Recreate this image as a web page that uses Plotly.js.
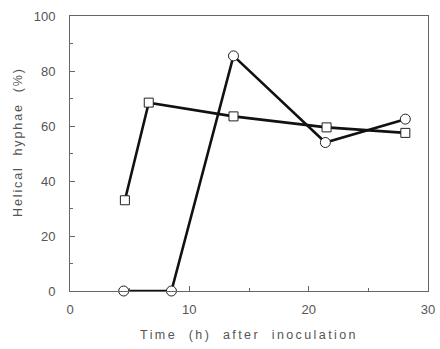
<!DOCTYPE html>
<html>
<head>
<meta charset="utf-8">
<script src="https://cdn.plot.ly/plotly-3.0.1.min.js"></script>
<style>
html,body{margin:0;padding:0;background:#fff;}
#chart{width:440px;height:349px;}
.g-xtitle text{letter-spacing:2.4px;}
.annotation-text{letter-spacing:1.9px;}
</style>
</head>
<body>
<div id="chart"></div>
<script>
var circleX = [4.5, 8.5, 13.7, 21.4, 28.1];
var circleY = [0, 0, 85.5, 54, 62.5];
var squareX = [4.6, 6.6, 13.7, 21.5, 28.1];
var squareY = [33, 68.5, 63.5, 59.5, 57.5];
var xTicks = [0, 10, 20, 30];
var yTicks = [0, 20, 40, 60, 80, 100];
var yTitle = 'Helical\u00a0\u00a0hyphae\u00a0\u00a0(%)';
var xTitle = 'Time\u00a0\u00a0(h)\u00a0\u00a0after\u00a0\u00a0inoculation';

var font = {family: 'Liberation Sans, Arial, sans-serif', size: 12, color: '#555'};

var traces = [
  {x: squareX, y: squareY, mode: 'lines+markers', type: 'scatter',
   line: {color: '#111', width: 2.6},
   marker: {symbol: 'square', size: 9, color: '#fff', line: {color: '#222', width: 1}},
   cliponaxis: false, hoverinfo: 'skip'},
  {x: circleX, y: circleY, mode: 'lines+markers', type: 'scatter',
   line: {color: '#111', width: 2.6},
   marker: {symbol: 'circle', size: 10, color: '#fff', line: {color: '#222', width: 1}},
   cliponaxis: false, hoverinfo: 'skip'}
];

var layout = {
  width: 440, height: 349,
  margin: {l: 70, r: 12, t: 16, b: 58},
  paper_bgcolor: '#fff', plot_bgcolor: '#fff',
  showlegend: false,
  font: font,
  xaxis: {
    range: [0, 30], tickvals: xTicks, ticktext: xTicks.map(String),
    showgrid: false, zeroline: false, showline: true, mirror: true,
    linecolor: '#666', linewidth: 1,
    ticks: 'inside', ticklen: 5, tickcolor: '#666',
    minor: {dtick: 5, ticks: 'inside', ticklen: 3, tickcolor: '#666', showgrid: false},
    ticklabelstandoff: 6,
    tickfont: {family: font.family, size: 13, color: '#555'},
    title: {text: xTitle, font: {family: font.family, size: 12.5, color: '#555'}, standoff: 14}
  },
  yaxis: {
    range: [0, 100], tickvals: yTicks,
    showgrid: false, zeroline: false, showline: true, mirror: true,
    linecolor: '#666', linewidth: 1,
    ticks: 'inside', ticklen: 5, tickcolor: '#666',
    minor: {dtick: 10, ticks: 'inside', ticklen: 3, tickcolor: '#666', showgrid: false},
    ticklabelstandoff: 11,
    tickfont: {family: font.family, size: 13, color: '#555'}
  },
  annotations: [{
    text: yTitle, textangle: -90, showarrow: false,
    xref: 'paper', yref: 'paper', x: -0.145, y: 0.542,
    xanchor: 'center', yanchor: 'middle',
    font: {family: font.family, size: 12.5, color: '#555'}
  }]
};

Plotly.newPlot('chart', traces, layout, {staticPlot: true, displayModeBar: false});
</script>
</body>
</html>
